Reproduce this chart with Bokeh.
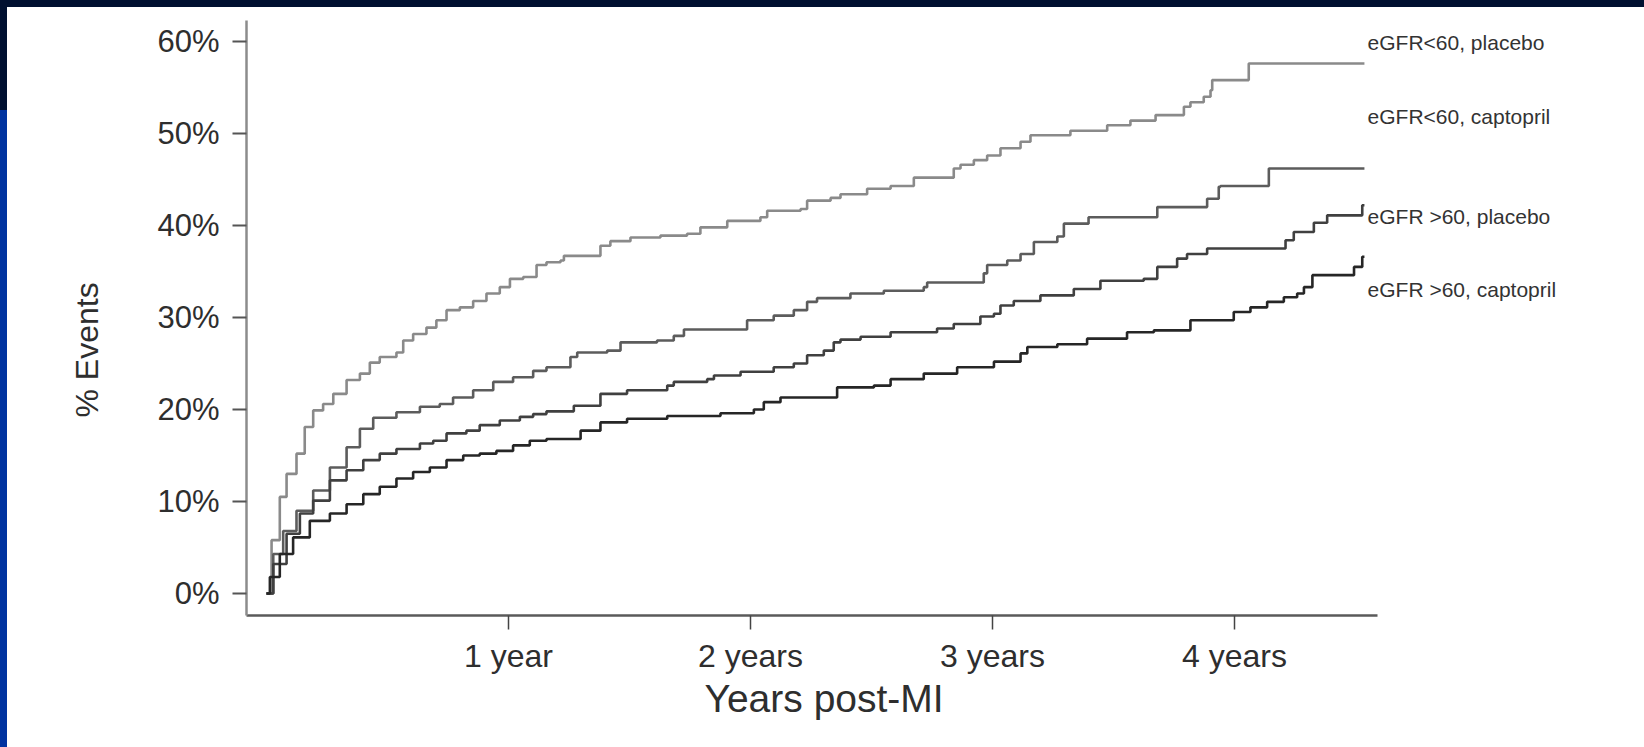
from bokeh.plotting import figure
from bokeh.models import FixedTicker, Title, Range1d
from bokeh.layouts import column
from bokeh.embed import file_html
from bokeh.resources import INLINE
from bokeh.core.properties import value

# ---------------- data (years post-MI, % events) ----------------
lt60_placebo_t = [0, 0.021, 0.055, 0.083, 0.124, 0.158, 0.193, 0.234, 0.276, 0.331, 0.386, 0.427,
                  0.468, 0.537, 0.565, 0.606, 0.661, 0.702, 0.744, 0.799, 0.854, 0.909, 0.964, 1.006,
                  1.061, 1.116, 1.157, 1.215, 1.229, 1.380, 1.421, 1.504, 1.628, 1.738, 1.793, 1.904,
                  2.041, 2.069, 2.207, 2.234, 2.331, 2.372, 2.482, 2.579, 2.675, 2.840, 2.868, 2.923,
                  2.978, 3.033, 3.116, 3.157, 3.322, 3.474, 3.570, 3.674, 3.791, 3.818, 3.873, 3.901,
                  3.908, 4.059, 4.537]
lt60_placebo_y = [0, 5.8, 10.5, 13.0, 15.2, 18.1, 19.9, 20.6, 21.7, 23.2, 23.9, 25.1,
                  25.7, 26.2, 27.5, 28.2, 28.9, 29.7, 30.8, 31.1, 31.8, 32.6, 33.3, 34.2,
                  34.4, 35.7, 36.0, 36.2, 36.7, 37.8, 38.3, 38.7, 38.9, 39.1, 39.8, 40.5,
                  40.9, 41.6, 41.8, 42.7, 43.0, 43.4, 44.0, 44.3, 45.2, 46.2, 46.6, 47.1,
                  47.6, 48.4, 49.1, 49.8, 50.3, 50.9, 51.4, 52.0, 52.9, 53.4, 54.0, 54.7,
                  55.8, 57.6, 57.6]

lt60_captopril_t = [0, 0.028, 0.069, 0.124, 0.193, 0.262, 0.331, 0.386, 0.441, 0.537, 0.634, 0.716,
                    0.771, 0.854, 0.937, 1.019, 1.102, 1.157, 1.256, 1.284, 1.408, 1.463, 1.614, 1.683,
                    1.725, 1.986, 2.096, 2.179, 2.234, 2.275, 2.413, 2.551, 2.716, 2.730, 2.964, 2.978,
                    3.061, 3.116, 3.171, 3.268, 3.295, 3.397, 3.681, 3.887, 3.935, 3.942, 4.142, 4.537]
lt60_captopril_y = [0, 4.3, 6.8, 9.0, 11.2, 13.7, 15.9, 17.9, 19.1, 19.7, 20.3, 20.6,
                    21.3, 22.1, 23.0, 23.5, 24.2, 24.6, 25.7, 26.2, 26.4, 27.3, 27.5, 28.0,
                    28.7, 29.7, 30.2, 30.8, 31.7, 32.1, 32.6, 32.9, 33.3, 33.8, 34.8, 35.7,
                    36.2, 36.9, 38.2, 38.8, 40.2, 40.9, 42.0, 42.9, 44.2, 44.3, 46.2, 46.2]

gt60_placebo_t = [0, 0.028, 0.083, 0.138, 0.193, 0.262, 0.331, 0.400, 0.468, 0.537, 0.634, 0.689,
                  0.744, 0.826, 0.881, 0.964, 1.047, 1.102, 1.157, 1.270, 1.380, 1.490, 1.656, 1.683,
                  1.821, 1.849, 1.959, 2.096, 2.179, 2.234, 2.303, 2.344, 2.372, 2.455, 2.579, 2.771,
                  2.840, 2.950, 3.006, 3.033, 3.088, 3.198, 3.336, 3.446, 3.625, 3.681, 3.763, 3.804,
                  3.887, 4.211, 4.245, 4.328, 4.383, 4.528, 4.537]
gt60_placebo_y = [0, 3.2, 6.5, 8.7, 10.1, 12.3, 13.4, 14.5, 15.2, 15.7, 16.3, 16.6,
                  17.4, 17.7, 18.3, 18.8, 19.2, 19.5, 19.8, 20.4, 21.7, 22.1, 22.6, 23.0,
                  23.3, 23.7, 24.1, 24.6, 25.0, 25.9, 26.4, 27.3, 27.6, 27.9, 28.4, 28.8,
                  29.3, 30.1, 30.4, 31.3, 31.8, 32.4, 33.1, 34.0, 34.2, 35.5, 36.4, 36.9,
                  37.5, 38.4, 39.3, 40.3, 41.1, 42.2, 42.2]

gt60_captopril_t = [0, 0.014, 0.055, 0.110, 0.179, 0.262, 0.331, 0.400, 0.468, 0.537, 0.606, 0.675,
                    0.744, 0.813, 0.881, 0.950, 1.019, 1.088, 1.157, 1.298, 1.380, 1.490, 1.656, 1.876,
                    2.014, 2.055, 2.124, 2.358, 2.510, 2.579, 2.716, 2.854, 3.006, 3.116, 3.144, 3.268,
                    3.391, 3.556, 3.667, 3.818, 3.997, 4.066, 4.135, 4.204, 4.259, 4.287, 4.322, 4.494,
                    4.528, 4.537]
gt60_captopril_y = [0, 1.8, 4.3, 6.1, 7.9, 8.7, 9.7, 10.8, 11.6, 12.5, 13.2, 13.7,
                    14.5, 15.0, 15.2, 15.5, 16.1, 16.6, 16.8, 17.7, 18.6, 19.0, 19.3, 19.6,
                    20.0, 20.8, 21.3, 22.4, 22.6, 23.3, 23.9, 24.6, 25.2, 26.1, 26.8, 27.1,
                    27.7, 28.4, 28.6, 29.7, 30.6, 31.1, 31.7, 32.2, 32.6, 33.3, 34.6, 35.5,
                    36.6, 36.6]

series_names = ["eGFR<60, placebo", "eGFR<60, captopril", "eGFR >60, placebo", "eGFR >60, captopril"]
series_t = [lt60_placebo_t, lt60_captopril_t, gt60_placebo_t, gt60_captopril_t]
series_y = [lt60_placebo_y, lt60_captopril_y, gt60_placebo_y, gt60_captopril_y]
series_colors = ["#8a8a8a", "#5c5c5c", "#404040", "#262626"]

label_x = [4.55, 4.55, 4.55, 4.55]
label_y = [59.9, 51.8, 41.0, 33.0]

x_ticks = [1, 2, 3, 4]
x_tick_labels = ["1 year", "2 years", "3 years", "4 years"]
y_ticks = [0, 10, 20, 30, 40, 50, 60]
y_tick_labels = ["0%", "10%", "20%", "30%", "40%", "50%", "60%"]

FONT = "Liberation Sans"
TXT = "#2e2e2e"

p = figure(width=1637, height=740, margin=(7, 0, 0, 7),
           x_range=Range1d(-0.0826, 5.653), y_range=Range1d(-2.39, 62.28),
           output_backend="svg", toolbar_location=None,
           min_border_left=239, min_border_right=10, min_border_top=13, min_border_bottom=132,
           background_fill_color="white", border_fill_color="white")
p.outline_line_color = None
p.xgrid.visible = False
p.ygrid.visible = False

for t, y, c in zip(series_t, series_y, series_colors):
    p.step(t, y, mode="after", line_color=c, line_width=2.6)

p.text(x=label_x, y=label_y, text=series_names, text_font=value(FONT), text_font_size="21px",
       text_color="#333333", text_align="left", text_baseline="alphabetic")

# y axis
ya = p.yaxis[0]
ya.ticker = FixedTicker(ticks=y_ticks)
ya.major_label_overrides = dict(zip(y_ticks, y_tick_labels))
ya.axis_line_color = "#8c8c8c"
ya.axis_line_width = 2.5
ya.major_tick_in = 0
ya.major_tick_out = 14
ya.major_tick_line_color = "#555555"
ya.major_tick_line_width = 2
ya.minor_tick_line_color = None
ya.major_label_text_font = FONT
ya.major_label_text_font_size = "31px"
ya.major_label_text_color = TXT
ya.major_label_standoff = 13

# x axis
xa = p.xaxis[0]
xa.ticker = FixedTicker(ticks=x_ticks)
xa.major_label_overrides = dict(zip(x_ticks, x_tick_labels))
xa.bounds = (-0.0826, 4.59)
xa.axis_line_color = "#5a5a5a"
xa.axis_line_width = 2.5
xa.major_tick_in = 0
xa.major_tick_out = 14
xa.major_tick_line_color = "#444444"
xa.major_tick_line_width = 1.5
xa.minor_tick_line_color = None
xa.major_label_text_font = FONT
xa.major_label_text_font_size = "32px"
xa.major_label_text_color = TXT
xa.major_label_standoff = 8

yt = Title(text="% Events", align="left", offset=198, standoff=100,
           text_font=FONT, text_font_size="32px", text_font_style="normal", text_color=TXT)
p.add_layout(yt, "left")
xt = Title(text="Years post-MI", align="left", offset=458, standoff=0, vertical_align="top",
           text_font=FONT, text_font_size="39px", text_font_style="normal", text_color=TXT)
p.add_layout(xt, "below")

layout = column(p, styles={
    "background-color": "white",
    "background-image": "linear-gradient(#001030, #001030), linear-gradient(#001030, #001030), linear-gradient(#0033a0, #0033a0)",
    "background-size": "100% 7px, 7px 110px, 7px 100%",
    "background-position": "0 0, 0 0, 0 0",
    "background-repeat": "no-repeat",
})

open("out.html", "w").write(file_html(layout, INLINE))
